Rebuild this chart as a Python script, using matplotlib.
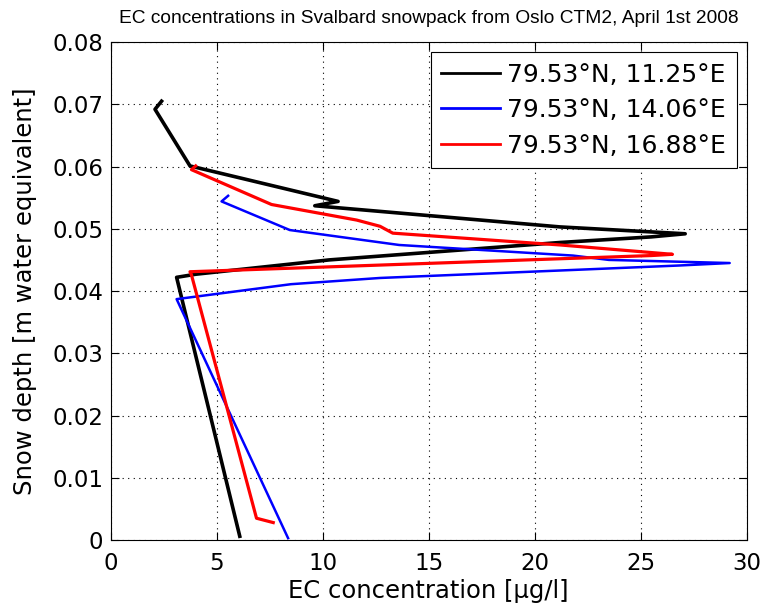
import matplotlib
matplotlib.use("Agg")
import matplotlib.pyplot as plt

# EC concentration [ug/l] and snow depth [m w.e.] per grid column
black_conc = [2.39, 2.08, 3.73, 10.72, 9.62, 21.2, 25.5, 27.1, 25.5, 21.2, 10.3, 4.0, 3.1, 6.08]
black_depth = [0.0705, 0.0692, 0.0601, 0.0544, 0.0537, 0.0503, 0.0495, 0.0492, 0.0487, 0.0478, 0.0450, 0.0427, 0.0422, 0.0006]

blue_conc = [5.53, 5.22, 8.44, 13.6, 21.8, 23.5, 29.2, 26.8, 21.2, 12.7, 8.5, 3.1, 8.36]
blue_depth = [0.0553, 0.0544, 0.0498, 0.0474, 0.0457, 0.0450, 0.0445, 0.0441, 0.0433, 0.0421, 0.0411, 0.0387, 0.0003]

red_conc = [4.0, 3.8, 7.58, 11.6, 12.7, 13.3, 21.2, 26.5, 25.5, 3.73, 3.8, 6.87, 7.66]
red_depth = [0.0601, 0.0595, 0.0539, 0.0514, 0.0504, 0.0493, 0.0474, 0.0459, 0.0457, 0.0431, 0.0426, 0.0035, 0.0028]

labels = ["79.53\u00b0N, 11.25\u00b0E", "79.53\u00b0N, 14.06\u00b0E", "79.53\u00b0N, 16.88\u00b0E"]

plt.rcParams["font.family"] = ["DejaVu Sans"]

fig = plt.figure(figsize=(7.65, 6.14), dpi=100)
ax = fig.add_axes([0.145, 0.1205, 0.831, 0.811])

ax.plot(black_conc, black_depth, color="black", lw=2.6, label=labels[0])
ax.plot(blue_conc, blue_depth, color="blue", lw=1.8, label=labels[1])
ax.plot(red_conc, red_depth, color="red", lw=2.3, label=labels[2])

ax.set_xlim(0, 30)
ax.set_ylim(0, 0.08)
ax.set_xticks(range(0, 31, 5))
ax.set_yticks([i / 100 for i in range(9)])
ax.set_yticklabels(["0"] + ["%.2f" % (i / 100) for i in range(1, 9)])
ax.grid(True, color="black", linestyle=(0, (1, 4)), linewidth=0.8)
ax.tick_params(direction="in", top=True, right=True, labelsize=16.5, length=6, width=0.8)
ax.tick_params(axis="x", pad=8.5)
ax.tick_params(axis="y", pad=5.5)
for s in ax.spines.values():
    s.set_linewidth(0.8)

ax.set_xlabel("EC concentration [\u00b5g/l]", fontsize=17.5, labelpad=3)
ax.set_ylabel("Snow depth [m water equivalent]", fontsize=17.5, labelpad=11)
ax.set_title("EC concentrations in Svalbard snowpack from Oslo CTM2, April 1st 2008",
             fontsize=13.8, pad=14, family=["Liberation Sans", "DejaVu Sans"])

leg = ax.legend(loc="upper right", fontsize=18, fancybox=False, framealpha=1,
                edgecolor="black", handlelength=2.36, borderaxespad=0.4,
                labelspacing=0.46, handletextpad=0.28, borderpad=0.42)
leg.get_frame().set_linewidth(0.8)
for line in leg.get_lines():
    line.set_linewidth(2.0)

fig.savefig("out.png", dpi=100)
